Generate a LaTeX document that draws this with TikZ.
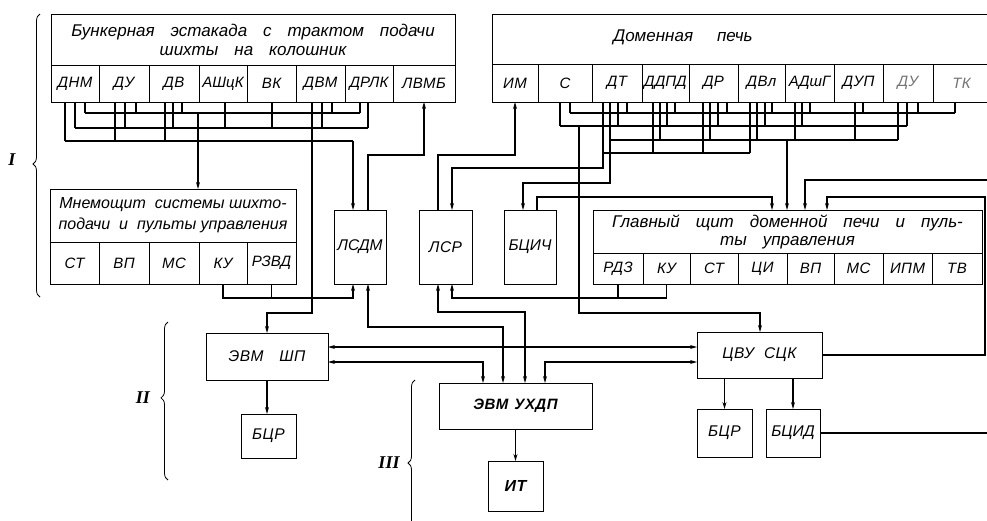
\documentclass[tikz,border=0pt]{standalone}
\usepackage{fontspec}
\setmainfont{Liberation Sans}
\newfontfamily\cellf[LetterSpace=3]{Liberation Sans}
\newfontfamily\romf{Liberation Serif}
\usetikzlibrary{arrows.meta,decorations.pathreplacing,calc}
\newcommand\wsp{\hspace{16pt}}
\newcommand\tight{\addfontfeatures{LetterSpace=0}}
\tikzset{
 box/.style={draw, line width=1pt, inner sep=0pt, outer sep=0pt},
 cellbox/.style={box, font=\cellf\itshape\fontsize{15}{16}\selectfont},
 lblbox/.style={box, font=\cellf\itshape\fontsize{15.5}{16}\selectfont},
 ttl/.style={box, align=center, font=\itshape\fontsize{17}{19}\selectfont},
 wire/.style={line width=1.1pt},
 arr/.style={wire, -{Stealth[length=7pt,width=4pt]}},
 darr/.style={wire, {Stealth[length=7pt,width=4pt]}-{Stealth[length=7pt,width=4pt]}},
 brc/.style={decorate, decoration={brace, amplitude=7pt}, line width=0.8pt},
 roman/.style={font=\romf\bfseries\itshape\fontsize{18}{18}\selectfont},
}
\newcommand\mkbox[7]{%
 \pgfmathsetmacro\mkW{#4-#2}\pgfmathsetmacro\mkH{#5-#3}%
 \pgfmathsetmacro\mkX{(#2+#4)/2}\pgfmathsetmacro\mkY{(#3+#5)/2}%
 \node[#1, minimum width=\mkW pt, minimum height=\mkH pt] (#6) at (\mkX,\mkY) {#7};}
\newcommand\ldrop[2]{\draw[wire] ([xshift={(#1-51)*1pt}]dnm.south west) -- ++(0,{#2-102});}
\newcommand\rdrop[2]{\draw[wire] ([xshift={(#1-492)*1pt}]im.south west) -- ++(0,{#2-102});}
\begin{document}
\begin{tikzpicture}[x=1pt,y=-1pt]
\useasboundingbox (0,0) rectangle (987,520);
\clip (0,0) rectangle (987,520);
% ---------- top left block
\mkbox{ttl}{51}{14}{455}{65}{bttl}{Бункерная\wsp эстакада\wsp с\wsp трактом\wsp подачи\\шихты\wsp на\wsp колошник}
\mkbox{cellbox}{51}{65}{99}{102}{dnm}{ДНМ}
\mkbox{cellbox}{99}{65}{149}{102}{du1}{ДУ}
\mkbox{cellbox}{149}{65}{199}{102}{dv}{ДВ}
\mkbox{cellbox}{199}{65}{247}{102}{ashck}{\tight АШцК}
\mkbox{cellbox}{247}{65}{296}{102}{vk}{ВК}
\mkbox{cellbox}{296}{65}{345}{102}{dvm}{ДВМ}
\mkbox{cellbox}{345}{65}{393}{102}{drlk}{\tight ДРЛК}
\mkbox{cellbox}{393}{65}{455}{102}{lvmb}{ЛВМБ}
% ---------- top right block
\mkbox{box}{492}{14}{990}{64}{dttl}{}
\node[font=\itshape\fontsize{17}{19}\selectfont] (dtext) at (683,37) {Доменная\hspace{24pt}печь};
\mkbox{cellbox}{492}{64}{538}{102}{im}{ИМ}
\mkbox{cellbox}{538}{64}{592}{102}{sc}{С}
\mkbox{cellbox}{592}{64}{642}{102}{dt}{ДТ}
\mkbox{cellbox}{642}{64}{689}{102}{ddpd}{\tight ДДПД}
\mkbox{cellbox}{689}{64}{738}{102}{dr}{ДР}
\mkbox{cellbox}{738}{64}{785}{102}{dvl}{ДВл}
\mkbox{cellbox}{785}{64}{834}{102}{adshg}{\tight АДшГ}
\mkbox{cellbox}{834}{64}{883}{102}{dup}{ДУП}
\mkbox{cellbox, text=black!55}{883}{64}{933}{102}{du2}{ДУ}
\mkbox{cellbox, text=black!55}{933}{64}{990}{102}{tk}{ТК}
% ---------- mnemo
\mkbox{ttl, font=\itshape\fontsize{16}{21}\selectfont}{50}{189}{296}{242}{mnt}{Мнемощит\hspace{9pt}системы шихто-\\подачи\hspace{9pt}и\hspace{9pt}пульты управления}
\mkbox{cellbox}{50}{242}{99}{284}{mst}{СТ}
\mkbox{cellbox}{99}{242}{149}{284}{mvp}{ВП}
\mkbox{cellbox}{149}{242}{199}{284}{mms}{МС}
\mkbox{cellbox}{199}{242}{247}{284}{mku}{КУ}
\mkbox{cellbox}{247}{242}{296}{284}{mrzvd}{\tight РЗВД}
% ---------- middle boxes
\mkbox{lblbox}{334}{210}{386}{284}{lsdm}{\tight ЛСДМ}
\mkbox{lblbox}{419}{210}{472}{284}{lsr}{ЛСР}
\mkbox{lblbox}{504}{210}{556}{284}{bcich}{\tight БЦИЧ}
% ---------- main panel
\mkbox{ttl, font=\itshape\fontsize{17}{18}\selectfont}{593}{210}{982}{253}{pttl}{Главный\wsp щит\wsp доменной\wsp печи\wsp и\wsp пуль-\\ты\wsp управления}
\mkbox{cellbox}{593}{253}{643}{284}{prdz}{РДЗ}
\mkbox{cellbox}{643}{253}{690}{284}{pku}{КУ}
\mkbox{cellbox}{690}{253}{738}{284}{pst}{СТ}
\mkbox{cellbox}{738}{253}{787}{284}{pci}{ЦИ}
\mkbox{cellbox}{787}{253}{834}{284}{pvp}{ВП}
\mkbox{cellbox}{834}{253}{883}{284}{pms}{МС}
\mkbox{cellbox}{883}{253}{932}{284}{pipm}{ИПМ}
\mkbox{cellbox}{932}{253}{982}{284}{ptv}{ТВ}
% ---------- lower boxes
\mkbox{lblbox}{206}{333}{328}{380}{evmsp}{ЭВМ\hspace{16pt}ШП}
\mkbox{lblbox}{241}{414}{296}{458}{bcra}{БЦР}
\mkbox{lblbox, font=\cellf\bfseries\itshape\fontsize{15}{16}\selectfont}{439}{383}{592}{429}{uhdp}{ЭВМ\hspace{6pt}УХДП}
\mkbox{lblbox, font=\cellf\bfseries\itshape\fontsize{16}{16}\selectfont}{488}{461}{543}{511}{it}{ИТ}
\mkbox{lblbox}{697}{332}{822}{378}{cvu}{ЦВУ\hspace{10pt}СЦК}
\mkbox{lblbox}{697}{409}{752}{457}{bcrb}{БЦР}
\mkbox{lblbox}{766}{409}{820}{457}{bcid}{\tight БЦИД}
% ---------- left bus tangle
\draw[wire] (85,113) -- (360,113);
\draw[wire] (75,128) -- (368,128);
\draw[wire] (65,141) -- (353,141);
\ldrop{85}{113}\ldrop{75}{128}\ldrop{65}{141}
\ldrop{136}{113}\ldrop{125}{128}\ldrop{115}{141}
\ldrop{182}{113}\ldrop{173}{128}\ldrop{165}{141}
\ldrop{225}{128}\ldrop{272}{128}
\ldrop{332}{113}\ldrop{322}{128}
\ldrop{360}{113}\ldrop{368}{128}
% ---------- right bus tangle
\draw[wire] (570,113) -- (955,113);
\draw[wire] (560,126) -- (907,126);
\draw[wire] (610,140) -- (898,140);
\draw[wire] (603,153) -- (750,153);
\rdrop{560}{126}\rdrop{570}{113}
\rdrop{618}{126}\rdrop{627}{113}
\rdrop{653}{153}\rdrop{660}{140}\rdrop{667}{126}\rdrop{675}{113}
\rdrop{703}{153}\rdrop{710}{140}\rdrop{718}{126}\rdrop{727}{113}
\rdrop{750}{153}\rdrop{757}{140}\rdrop{765}{126}\rdrop{772}{113}
\rdrop{795}{140}\rdrop{802}{126}\rdrop{810}{113}
\rdrop{855}{140}\rdrop{863}{113}
\rdrop{898}{140}\rdrop{907}{126}\rdrop{918}{113}
\rdrop{955}{113}
% ---------- connectors
\draw[arr] (198,113) -- ([xshift=148pt]mnt.north west);
\draw[arr] ([xshift=16pt]dvm.south west) -- ++(0,211) -| (evmsp.north);
\draw[arr] (353,141) -- ([xshift=19pt]lsdm.north west);
\draw[arr] ([xshift=34pt]lsdm.north west) -- ++(0,-55) -| (lvmb.south);
\draw[arr] (mku.south) -- ++(0,14) -| ([xshift=19pt]lsdm.south west);
\draw[wire] (mrzvd.south) -- ++(0,14);
\draw[darr] ([xshift=34pt]lsdm.south west) -- ++(0,43) -| ([xshift=64pt]uhdp.north west);
\draw[darr] ([xshift=19pt]lsr.south west) -- ++(0,28) -| ([xshift=86pt]uhdp.north west);
\draw[arr] (pku.south) -- ++(0,14) -| ([xshift=33pt]lsr.south west);
\draw[wire] (prdz.south) -- ++(0,14);
\draw[arr] ([xshift=19pt]lsr.north west) -- ++(0,-55) -| (im.south);
\draw[arr] ([xshift=11pt]dt.south west) -- ++(0,66) -| ([xshift=33pt]lsr.north west);
\draw[arr] ([xshift=18pt]dt.south west) -- ++(0,81) -| ([xshift=19pt]bcich.north west);
\draw[arr] ([xshift=33pt]bcich.north west) -- ++(0,-13) -| ([xshift=179pt]pttl.north west);
\draw[arr] (787,140) -- ([xshift=194pt]pttl.north west);
\coordinate (edgeA) at (987,180);
\draw[arr] (edgeA) -| ([xshift=212pt]pttl.north west);
\draw[arr] (cvu.east) -| (985,197) -| ([xshift=234pt]pttl.north west);
\draw[wire] (bcid.east) -- ++(170,0);
\draw[arr] (579,126) -- (579,313) -| ([xshift=63pt]cvu.north west);
\draw[darr] ([yshift=9.5pt]evmsp.east) -- ([yshift=8pt]cvu.west);
\draw[darr] ([yshift=-5.5pt]evmsp.east) -| ([xshift=44pt]uhdp.north west);
\draw[darr] ([yshift=-7pt]cvu.west) -| ([xshift=106pt]uhdp.north west);
\draw[arr] (evmsp.south) -- (evmsp.south |- bcra.north);
\draw[arr] (uhdp.south) -- (it.north);
\draw[arr] (cvu.south -| bcrb.north) -- (bcrb.north);
\draw[arr] (cvu.south -| bcid.north) -- (bcid.north);
% ---------- braces
\draw[brc, decoration={aspect=0.47}] (40,297) -- (40,14);
\draw[brc, decoration={aspect=0.52}] (168,480) -- (168,322);
\draw[brc, decoration={aspect=0.5}] (415,546) -- (415,380);
\node[roman] (r1) at (12,160) {I};
\node[roman] (r2) at (143,398) {II};
\node[roman] (r3) at (389,463) {III};
\end{tikzpicture}
\end{document}
